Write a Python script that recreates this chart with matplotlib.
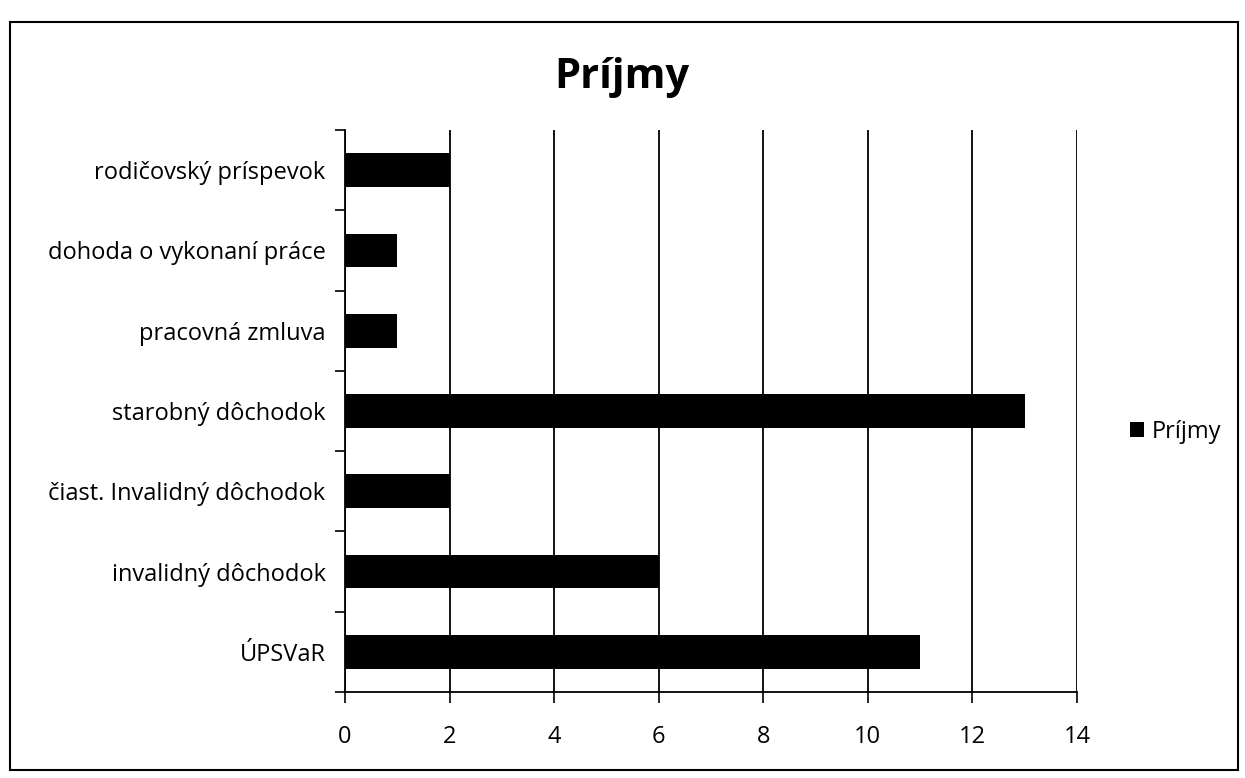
import matplotlib
matplotlib.use("Agg")
import matplotlib.pyplot as plt
from matplotlib.patches import Rectangle, Patch
import numpy as np

categories = ["ÚPSVaR", "invalidný dôchodok", "čiast. Invalidný dôchodok",
              "starobný dôchodok", "pracovná zmluva", "dohoda o vykonaní práce",
              "rodičovský príspevok"]
values = [11, 6, 2, 13, 1, 1, 2]
series_name = "Príjmy"
title = "Príjmy"
xticks = [0, 2, 4, 6, 8, 10, 12, 14]

plt.rcParams['font.family'] = ['Open Sans', 'DejaVu Sans']

fig = plt.figure(figsize=(12.45, 7.78), dpi=100)
ax = fig.add_axes([345/1245, 1 - 692/778, (1077-345)/1245, (692-130)/778])

y = np.arange(len(categories))
ax.barh(y, values, height=0.42, color='black', label=series_name, zorder=3)

ax.set_xlim(0, 14)
ax.set_ylim(-0.5, len(categories) - 0.5)
ax.set_xticks(xticks)
ax.set_xticklabels([str(t) for t in xticks], fontsize=17)
ax.set_yticks(y)
ax.set_yticklabels(categories, fontsize=17)
ax.tick_params(axis='y', length=0, pad=14)
ax.set_yticks(np.arange(len(categories) + 1) - 0.5, minor=True)
ax.tick_params(axis='y', which='minor', length=7, width=1.2, direction='out')
ax.tick_params(axis='x', length=8, width=1.2, direction='out', pad=16)

ax.grid(axis='x', color='black', linewidth=1.3, zorder=0)
for s in ['top', 'right']:
    ax.spines[s].set_visible(False)
for s in ['left', 'bottom']:
    ax.spines[s].set_linewidth(1.3)

fig.text(622/1245, 1 - 78/778, title, fontsize=30, fontweight='bold',
         ha='center', va='center')

leg = fig.legend(handles=[Patch(facecolor='black', label=series_name)],
                 loc='center left', bbox_to_anchor=(1130/1245, 1 - 432/778),
                 frameon=False, fontsize=17, handlelength=0.6, handleheight=0.6,
                 handletextpad=0.3, borderaxespad=0, borderpad=0)

fig.patches.append(Rectangle((10/1245, 1 - 770/778), (1238-10)/1245, (770-22)/778,
                             transform=fig.transFigure, fill=False,
                             edgecolor='black', linewidth=1.5))

fig.savefig("out.png", dpi=100, facecolor='white')
